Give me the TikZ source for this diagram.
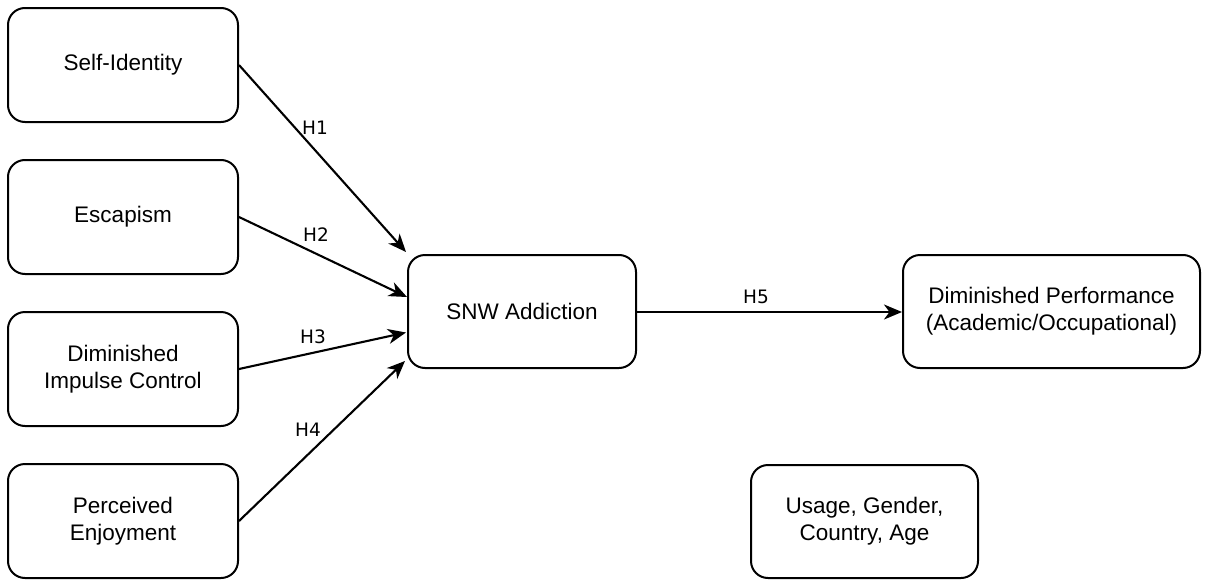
\documentclass[tikz,border=0pt]{standalone}
\usepackage{fontspec}
\setmainfont{Liberation Sans}
\newfontfamily\lblfont{DejaVu Sans}
\usetikzlibrary{arrows.meta,calc}
\tikzset{
  box/.style={draw=black, line width=2pt, rounded corners=17pt, fill=white,
    align=center, inner sep=0pt, font=\fontsize{22.5}{27}\selectfont},
  conn/.style={line width=2.1pt, -{Stealth[length=18pt,width=15pt,inset=5.5pt]}},
  lbl/.style={font=\lblfont\fontsize{18.5}{22}\selectfont, inner sep=0pt}
}
\begin{document}
\begin{tikzpicture}[x=1pt,y=-1pt]
\useasboundingbox (0,0) rectangle (1208,581);
\node[box, minimum width=230pt, minimum height=114pt] (si) at (123,65) {Self-Identity};
\node[box, minimum width=230pt, minimum height=114pt] (es) at (123,217) {Escapism};
\node[box, minimum width=230pt, minimum height=114pt] (di) at (123,369) {Diminished\\Impulse Control};
\node[box, minimum width=230pt, minimum height=114pt] (pe) at (123,521) {Perceived\\Enjoyment};
\node[box, minimum width=228pt, minimum height=113pt] (snw) at (522,311.5) {SNW Addiction};
\node[box, minimum width=297pt, minimum height=113pt] (dp) at (1051.5,311.5) {Diminished Performance\\(Academic/Occupational)};
\node[box, minimum width=227pt, minimum height=113pt] (us) at (864.5,521.5) {Usage, Gender,\\Country, Age};
\coordinate (t1) at ($(snw.north west)+(-1,-2)$);
\coordinate (t2) at ($(snw.west)+(0,-14.5)$);
\coordinate (t3) at ($(snw.west)+(-1,21)$);
\coordinate (t4) at ($(snw.west)+(-2,49.5)$);
\draw[conn] (si.east) -- (t1);
\draw[conn] (es.east) -- (t2);
\draw[conn] (di.east) -- (t3);
\draw[conn] (pe.east) -- (t4);
\draw[conn] ($(snw.east)+(0,0.5)$) -- ($(dp.west)+(0,0.5)$);
\node[lbl] (h1) at (315,128) {H1};
\node[lbl] (h2) at (316,235) {H2};
\node[lbl] (h3) at (313,337) {H3};
\node[lbl] (h4) at (308,430) {H4};
\node[lbl] (h5) at (756,297) {H5};
\end{tikzpicture}
\end{document}
